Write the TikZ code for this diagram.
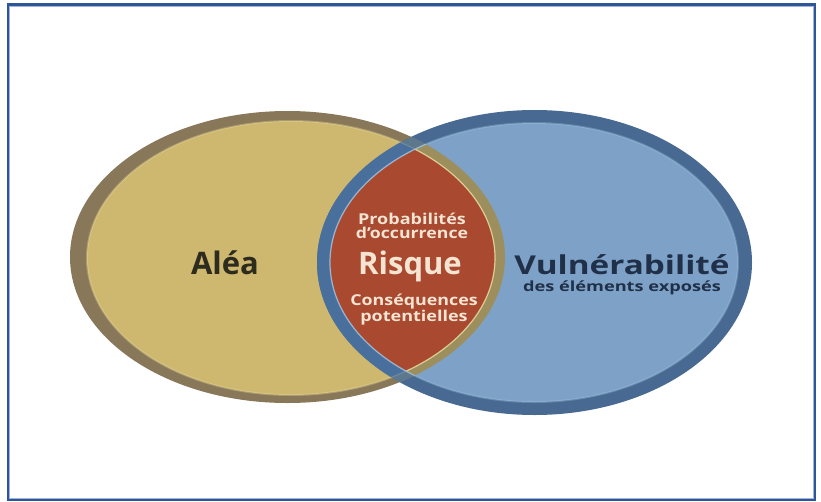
\documentclass[tikz,border=0pt]{standalone}
\usepackage{fontspec}
\usepackage{graphicx}
\newfontfamily\vennfont{Open Sans}

% palette
\definecolor{framedark}{RGB}{46,85,151}
\definecolor{framelight}{RGB}{157,181,223}
\definecolor{goldfill}{RGB}{206,183,111}
\definecolor{goldring}{RGB}{136,119,88}
\definecolor{goldringover}{RGB}{160,141,82}
\definecolor{goldedge}{RGB}{232,220,160}
\definecolor{bluefill}{RGB}{126,162,199}
\definecolor{bluering}{RGB}{72,106,146}
\definecolor{blueringover}{RGB}{74,114,160}
\definecolor{blueedge}{RGB}{165,200,228}
\definecolor{riskfill}{RGB}{168,73,48}
\definecolor{aleatext}{RGB}{45,42,30}
\definecolor{vulntext}{RGB}{32,48,72}
\definecolor{risktext}{RGB}{246,228,210}

\begin{document}
\begin{tikzpicture}[x=1pt,y=-1pt,
  txt/.style={inner sep=0pt, anchor=base},
  bigtxt/.style={txt, font=\vennfont\bfseries\fontsize{31}{31}\selectfont},
  vulntxt/.style={txt, font=\vennfont\bfseries\fontsize{26}{26}\selectfont, text=vulntext},
  subtxt/.style={txt, font=\vennfont\bfseries\fontsize{14}{14}\selectfont, text=vulntext},
  risksmall/.style={txt, align=center, font=\vennfont\bfseries\fontsize{15}{13.4}\selectfont, text=risktext}]

\useasboundingbox (0,0) rectangle (821,501);
\fill[white] (0,0) rectangle (821,501);

% frame
\draw[framedark, line width=2.4] (7.9,4.3) rectangle (815,499.8);
\draw[framelight, line width=0.9] (9.6,6) rectangle (813.3,498);

% left set: Aléa
\fill[goldring] (287.5,257) ellipse [x radius=217.5, y radius=146];
\fill[goldfill] (291,258) ellipse [x radius=204, y radius=137];
\draw[goldedge, line width=2, opacity=0.35] (291,258) ellipse [x radius=204, y radius=137];

% right set: Vulnérabilité
\fill[bluering] (534.5,262.5) ellipse [x radius=217.5, y radius=152.5];
\fill[bluefill] (534,262.5) ellipse [x radius=204, y radius=139.5];
\draw[blueedge, line width=2, opacity=0.3] (534,262.5) ellipse [x radius=204, y radius=139.5];

% intersection: Risque
\begin{scope}
  \clip (291,258) ellipse [x radius=204, y radius=137];
  \fill[riskfill] (534,262.5) ellipse [x radius=204, y radius=139.5];
\end{scope}

% left ring laid over the right set
\begin{scope}
  \clip (534.5,262.5) ellipse [x radius=217.5, y radius=152.5];
  \fill[goldringover, even odd rule, opacity=0.9]
    (287.5,257) ellipse [x radius=217.5, y radius=146]
    (291,258) ellipse [x radius=204, y radius=137];
  \draw[goldedge, line width=1.2, opacity=0.85] (291,258) ellipse [x radius=204, y radius=137];
\end{scope}

% right ring laid over the left set
\begin{scope}
  \clip (287.5,257) ellipse [x radius=217.5, y radius=146];
  \fill[blueringover, even odd rule, opacity=0.75]
    (534.5,262.5) ellipse [x radius=217.5, y radius=152.5]
    (534,262.5) ellipse [x radius=204, y radius=139.5];
  \draw[blueedge, line width=1.2, opacity=0.8] (534,262.5) ellipse [x radius=204, y radius=139.5];
\end{scope}

% labels (a two-line node sits on the baseline of its last line)
\node[bigtxt, text=aleatext] (alea) at (225,274) {Aléa};
\node[bigtxt, text=risktext] (risque) at (410,274) {Risque};
\node[risksmall] (proba) at (412,238.3)
  {\scalebox{1.2}[1]{Probabilités}\\\scalebox{1.18}[1]{d’occurrence}};
\node[risksmall] (conseq) at (414,321)
  {\scalebox{1.19}[1]{Conséquences}\\\scalebox{1.2}[1]{potentielles}};
\node[vulntxt] (vuln) at (622,274) {\scalebox{1.28}[1]{Vulnérabilité}};
\node[subtxt] (expos) at (622,291.7) {\scalebox{1.3}[1]{des éléments exposés}};
\end{tikzpicture}
\end{document}
